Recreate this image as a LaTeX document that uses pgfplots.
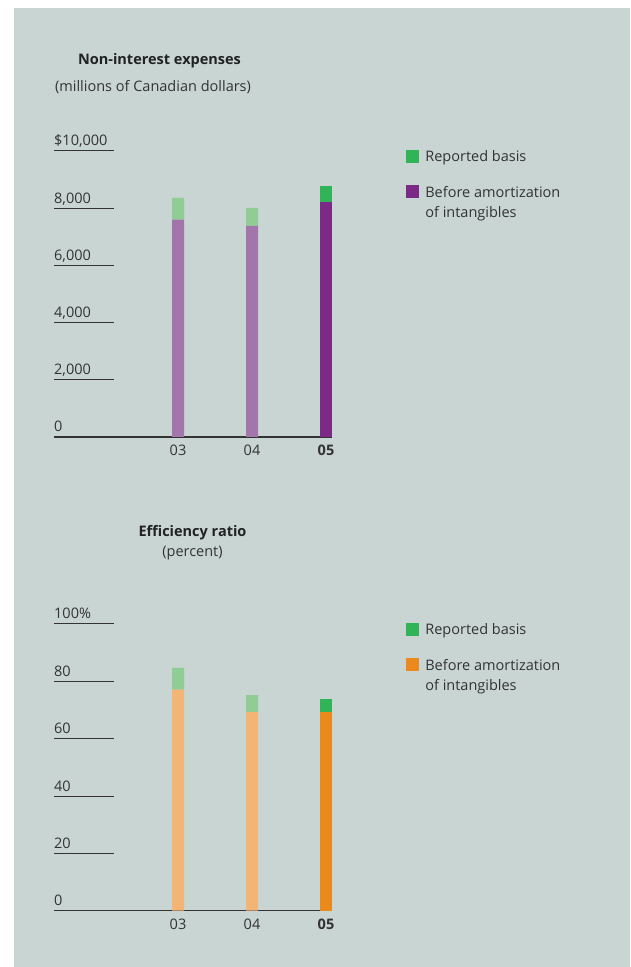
\documentclass[border=0pt]{standalone}
\usepackage{pgfplots}
\pgfplotsset{compat=1.18}
\usepackage{fontspec}
\setmainfont{Open Sans}
\definecolor{bg}{HTML}{C8D5D3}
\definecolor{txt}{HTML}{333333}
\definecolor{ttl}{HTML}{222222}
\definecolor{purL}{HTML}{A276AA}
\definecolor{purD}{HTML}{7B2A86}
\definecolor{grnL}{HTML}{90CD94}
\definecolor{grnD}{HTML}{31B457}
\definecolor{orgL}{HTML}{F3B576}
\definecolor{orgD}{HTML}{EA8A1C}
\newcommand{\fs}{\fontsize{14.5}{20}\selectfont}
\pgfplotsset{
  mybars/.style={
    scale only axis, width=278pt,
    xmin=-1.676, xmax=2.081, ymin=0,
    axis lines*=left,
    y axis line style={draw=none},
    x axis line style={draw=txt, line width=1.3pt},
    xtick={0,1,2}, xticklabels={03,04,\textbf{05}},
    x tick style={draw=none},
    y tick style={draw=txt, line width=1pt},
    major tick length=60pt, tick align=inside,
    ytick pos=left, xtick pos=bottom,
    scaled y ticks=false,
    ybar stacked, bar width=12pt,
    tick label style={font=\fs, text=txt, inner sep=0pt},
    yticklabel style={anchor=base west, yshift=5pt},
    xticklabel style={anchor=north, yshift=-8pt},
    legend style={draw=none, fill=none, inner sep=0pt, outer sep=0pt,
      at={(rel axis cs:1.266,1.008)}, anchor=north west,
      font=\fs, text=txt, column sep=5pt, row sep=19pt,
      cells={anchor=base west, align=left, inner sep=0pt}},
  }
}
\begin{document}
\begin{tikzpicture}
\useasboundingbox (0,0) rectangle (630pt,967pt);
\fill[bg] (14pt,0) rectangle (630pt,959pt);
% titles
\node[anchor=base, font=\fs\bfseries, text=ttl, inner sep=0pt] at (159.5pt,902.5pt) {Non-interest expenses};
\node[anchor=base, font=\fs, text=txt, inner sep=0pt] at (153pt,875.3pt) {(millions of Canadian dollars)};
\node[anchor=base, font=\fs\bfseries, text=ttl, inner sep=0pt] at (192.5pt,430.3pt) {Efficiency ratio};
\node[anchor=base, font=\fs, text=txt, inner sep=0pt] at (192.5pt,410pt) {(percent)};
% top chart
\begin{axis}[mybars, at={(54pt,530pt)}, anchor=south west,
  height=286pt, ymax=10000,
  ytick={0,2000,4000,6000,8000,10000},
  yticklabels={0,{2,000},{4,000},{6,000},{8,000},{\$10,000}}]
\addlegendimage{legend image code/.code={\fill[grnD] (0pt,-0.3pt) rectangle (12pt,11.7pt);}}
\addlegendentry{Reported basis}
\addlegendimage{legend image code/.code={\fill[purD] (0pt,19.7pt) rectangle (12pt,31.7pt);}}
\addlegendentry{Before amortization\\of intangibles}
\addplot[fill=purL, draw=none] coordinates {(0,7600) (1,7380) (2,0)};
\addplot[fill=purD, draw=none] coordinates {(0,0) (1,0) (2,8220)};
\addplot[fill=grnL, draw=none] coordinates {(0,760) (1,630) (2,0)};
\addplot[fill=grnD, draw=none] coordinates {(0,0) (1,0) (2,560)};
\end{axis}
% bottom chart
\begin{axis}[mybars, at={(54pt,56.3pt)}, anchor=south west,
  height=286.7pt, ymax=100,
  ytick={0,20,40,60,80,100},
  yticklabels={0,20,40,60,80,100\%}]
\addlegendimage{legend image code/.code={\fill[grnD] (0pt,-0.3pt) rectangle (12pt,11.7pt);}}
\addlegendentry{Reported basis}
\addlegendimage{legend image code/.code={\fill[orgD] (0pt,19.7pt) rectangle (12pt,31.7pt);}}
\addlegendentry{Before amortization\\of intangibles}
\addplot[fill=orgL, draw=none] coordinates {(0,77.1) (1,69.3) (2,0)};
\addplot[fill=orgD, draw=none] coordinates {(0,0) (1,0) (2,69.3)};
\addplot[fill=grnL, draw=none] coordinates {(0,7.6) (1,5.9) (2,0)};
\addplot[fill=grnD, draw=none] coordinates {(0,0) (1,0) (2,4.5)};
\end{axis}
\end{tikzpicture}
\end{document}
